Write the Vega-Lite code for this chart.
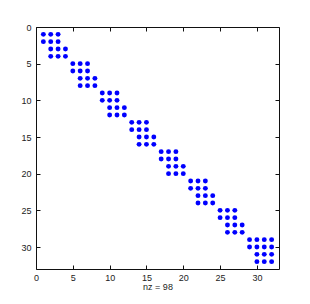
{
  "$schema": "https://vega.github.io/schema/vega-lite/v6.json",
  "autosize": "none",
  "padding": {"left": 36, "top": 27, "right": 31, "bottom": 35},
  "width": 243,
  "height": 242,
  "background": "white",
  "config": {
    "view": {"stroke": null},
    "axis": {"labelFont": "Liberation Sans", "titleFont": "Liberation Sans", "labelFontSize": 9, "titleFontSize": 9, "labelColor": "#222", "titleColor": "#222", "domainColor": "#111", "tickColor": "#111", "grid": false, "titleFontWeight": "normal"}
  },
  "data": {"values": [
    {"r":1,"c":1},{"r":1,"c":2},{"r":1,"c":3},{"r":2,"c":1},{"r":2,"c":2},{"r":2,"c":3},{"r":3,"c":2},{"r":3,"c":3},{"r":3,"c":4},{"r":4,"c":2},{"r":4,"c":3},{"r":4,"c":4},
    {"r":5,"c":5},{"r":5,"c":6},{"r":5,"c":7},{"r":6,"c":5},{"r":6,"c":6},{"r":6,"c":7},{"r":7,"c":6},{"r":7,"c":7},{"r":7,"c":8},{"r":8,"c":6},{"r":8,"c":7},{"r":8,"c":8},
    {"r":9,"c":9},{"r":9,"c":10},{"r":9,"c":11},{"r":10,"c":9},{"r":10,"c":10},{"r":10,"c":11},{"r":11,"c":10},{"r":11,"c":11},{"r":11,"c":12},{"r":12,"c":10},{"r":12,"c":11},{"r":12,"c":12},
    {"r":13,"c":13},{"r":13,"c":14},{"r":13,"c":15},{"r":14,"c":13},{"r":14,"c":14},{"r":14,"c":15},{"r":15,"c":14},{"r":15,"c":15},{"r":15,"c":16},{"r":16,"c":14},{"r":16,"c":15},{"r":16,"c":16},
    {"r":17,"c":17},{"r":17,"c":18},{"r":17,"c":19},{"r":18,"c":17},{"r":18,"c":18},{"r":18,"c":19},{"r":19,"c":18},{"r":19,"c":19},{"r":19,"c":20},{"r":20,"c":18},{"r":20,"c":19},{"r":20,"c":20},
    {"r":21,"c":21},{"r":21,"c":22},{"r":21,"c":23},{"r":22,"c":21},{"r":22,"c":22},{"r":22,"c":23},{"r":23,"c":22},{"r":23,"c":23},{"r":23,"c":24},{"r":24,"c":22},{"r":24,"c":23},{"r":24,"c":24},
    {"r":25,"c":25},{"r":25,"c":26},{"r":25,"c":27},{"r":26,"c":25},{"r":26,"c":26},{"r":26,"c":27},{"r":27,"c":26},{"r":27,"c":27},{"r":27,"c":28},{"r":28,"c":26},{"r":28,"c":27},{"r":28,"c":28},
    {"r":29,"c":29},{"r":29,"c":30},{"r":29,"c":31},{"r":29,"c":32},{"r":30,"c":29},{"r":30,"c":30},{"r":30,"c":31},{"r":30,"c":32},{"r":31,"c":30},{"r":31,"c":31},{"r":31,"c":32},{"r":32,"c":30},{"r":32,"c":31},{"r":32,"c":32}
  ]},
  "layer": [
    {
      "mark": {"type": "point", "filled": true, "shape": "circle", "size": 24, "color": "#0000ff", "opacity": 1},
      "encoding": {
        "x": {"field": "c", "type": "quantitative", "scale": {"domain": [0, 33], "nice": false, "zero": false},
              "axis": {"orient": "bottom", "values": [0,5,10,15,20,25,30], "tickSize": -4, "labelPadding": 8, "title": "nz = 98", "titlePadding": 0, "labelFlush": false}},
        "y": {"field": "r", "type": "quantitative", "scale": {"domain": [0, 33], "nice": false, "zero": false, "reverse": true},
              "axis": {"orient": "left", "values": [0,5,10,15,20,25,30], "tickSize": -4, "labelPadding": 9, "title": null, "labelFlush": false}}
      }
    },
    {
      "mark": {"type": "point", "filled": true, "opacity": 0},
      "encoding": {
        "x": {"field": "c", "type": "quantitative", "axis": {"orient": "top", "values": [0,5,10,15,20,25,30], "tickSize": -4, "labels": false, "title": null}},
        "y": {"field": "r", "type": "quantitative", "axis": {"orient": "right", "values": [0,5,10,15,20,25,30], "tickSize": -4, "labels": false, "title": null}}
      }
    }
  ],
  "resolve": {"axis": {"x": "independent", "y": "independent"}}
}
